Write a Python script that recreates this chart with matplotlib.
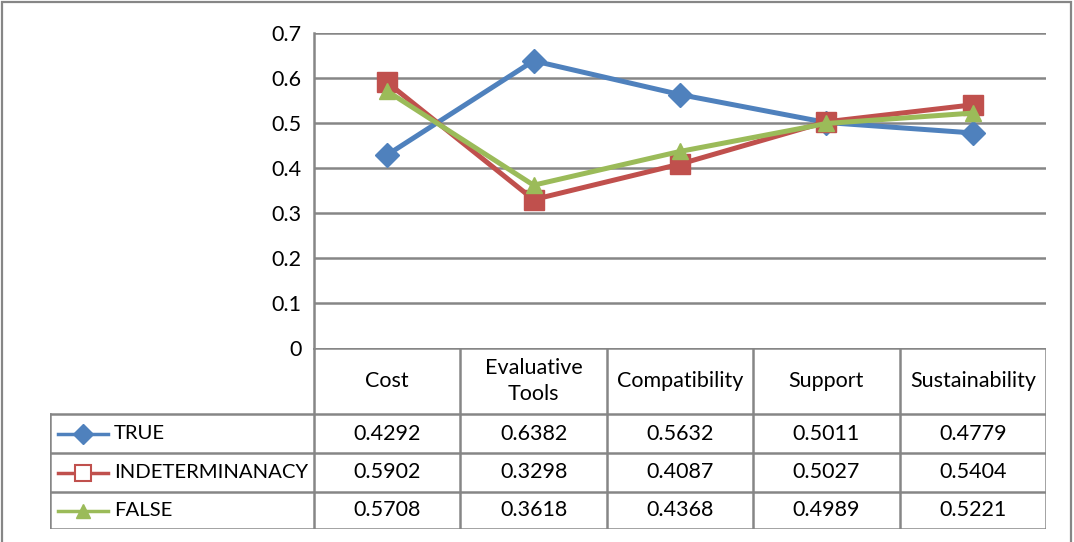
import matplotlib
matplotlib.use("Agg")
import matplotlib.pyplot as plt
from matplotlib.patches import Rectangle

categories = ["Cost", "Evaluative\nTools", "Compatibility", "Support", "Sustainability"]
series_names = ["TRUE", "INDETERMINANACY", "FALSE"]
true_vals = [0.4292, 0.6382, 0.5632, 0.5011, 0.4779]
indet_vals = [0.5902, 0.3298, 0.4087, 0.5027, 0.5404]
false_vals = [0.5708, 0.3618, 0.4368, 0.4989, 0.5221]
y_ticks = [0, 0.1, 0.2, 0.3, 0.4, 0.5, 0.6, 0.7]

colors = ["#4F81BD", "#C0504D", "#9BBB59"]
markers = ["D", "s", "^"]
msizes = [12, 14, 12]
grid_c = "#868686"
FONT = "Lato"
FS = 15.5
FS_NAME = 14.6

W, H = 1074, 542
fig = plt.figure(figsize=(W / 100, H / 100), dpi=100)

# pixel layout of the plot area and data table
px_left, px_right = 314, 1046
px_top, px_bottom = 33, 348
tab_left, tab_bottom = 50, 529
row_edges = [348, 414, 453, 492, 529]


def fx(px):
    return px / W


def fy(py):
    return 1 - py / H


ax = fig.add_axes([fx(px_left), fy(px_bottom), fx(px_right - px_left), (px_bottom - px_top) / H])
n = len(categories)
xs = list(range(n))
ax.set_xlim(-0.5, n - 0.5)
ax.set_ylim(0, 0.7)
ax.set_yticks(y_ticks)
ax.set_yticklabels(["0" if t == 0 else f"{t:.1f}" for t in y_ticks], fontfamily=FONT, fontsize=FS)
ax.tick_params(axis="y", length=0, pad=9)
ax.set_xticks([])
for s in ["top", "right", "bottom"]:
    ax.spines[s].set_visible(False)
ax.spines["left"].set_color(grid_c)
ax.spines["left"].set_linewidth(1.8)
for t in y_ticks[1:]:
    ax.axhline(t, color=grid_c, lw=1.8, zorder=1)

all_vals = [true_vals, indet_vals, false_vals]
for vals, c, m, ms in zip(all_vals, colors, markers, msizes):
    ax.plot(xs, vals, color=c, lw=3.6, marker=m, markersize=ms,
            markerfacecolor=c, markeredgecolor=c, zorder=3, clip_on=False)

# data table below the plot, aligned with category columns
unit = (px_right - px_left) / n
tx0 = -0.5 - (px_left - tab_left) / unit
tab = fig.add_axes([fx(tab_left), fy(tab_bottom), fx(px_right - tab_left), (tab_bottom - px_bottom) / H])
tab.set_xlim(tx0, n - 0.5)
tab.set_ylim(tab_bottom, px_bottom)
tab.axis("off")

lw_t = 1.8
# horizontal rules
tab.plot([-0.5, n - 0.5], [row_edges[0]] * 2, color=grid_c, lw=lw_t, solid_capstyle="projecting")
for ry in row_edges[1:]:
    tab.plot([tx0, n - 0.5], [ry, ry], color=grid_c, lw=lw_t, solid_capstyle="projecting")
# vertical rules
tab.plot([tx0, tx0], [row_edges[1], row_edges[-1]], color=grid_c, lw=lw_t)
for i in range(n + 1):
    xv = -0.5 + i
    tab.plot([xv, xv], [row_edges[0], row_edges[-1]], color=grid_c, lw=lw_t)

# header cells
hy = (row_edges[0] + row_edges[1]) / 2
for i, cat in enumerate(categories):
    tab.text(i, hy, cat, ha="center", va="center", fontfamily=FONT, fontsize=FS,
             linespacing=1.4)

# value rows with legend keys
key_px0, key_px1 = 58, 108
kx0 = tx0 + (key_px0 - tab_left) / unit
kx1 = tx0 + (key_px1 - tab_left) / unit
lab_x = tx0 + (114 - tab_left) / unit
for r, (name, vals, c, m) in enumerate(zip(series_names, all_vals, colors, markers)):
    cy = (row_edges[r + 1] + row_edges[r + 2]) / 2
    tab.plot([kx0, kx1], [cy, cy], color=c, lw=2.5)
    face = "white" if m == "s" else c
    tab.plot([(kx0 + kx1) / 2], [cy], marker=m, color=c, markersize=10 if m != "s" else 11,
             markerfacecolor=face, markeredgecolor=c, markeredgewidth=1.5 if m == "s" else 1)
    tab.text(lab_x, cy, name, ha="left", va="center", fontfamily=FONT, fontsize=FS_NAME)
    for i, v in enumerate(vals):
        tab.text(i, cy, f"{v:.4f}", ha="center", va="center", fontfamily=FONT, fontsize=FS)

# chart border
fig.add_artist(Rectangle((fx(2), -0.05), fx(1071 - 2), fy(1.5) + 0.05, transform=fig.transFigure,
                         fill=False, edgecolor=grid_c, lw=1.6))

fig.savefig("out.png", dpi=100)
